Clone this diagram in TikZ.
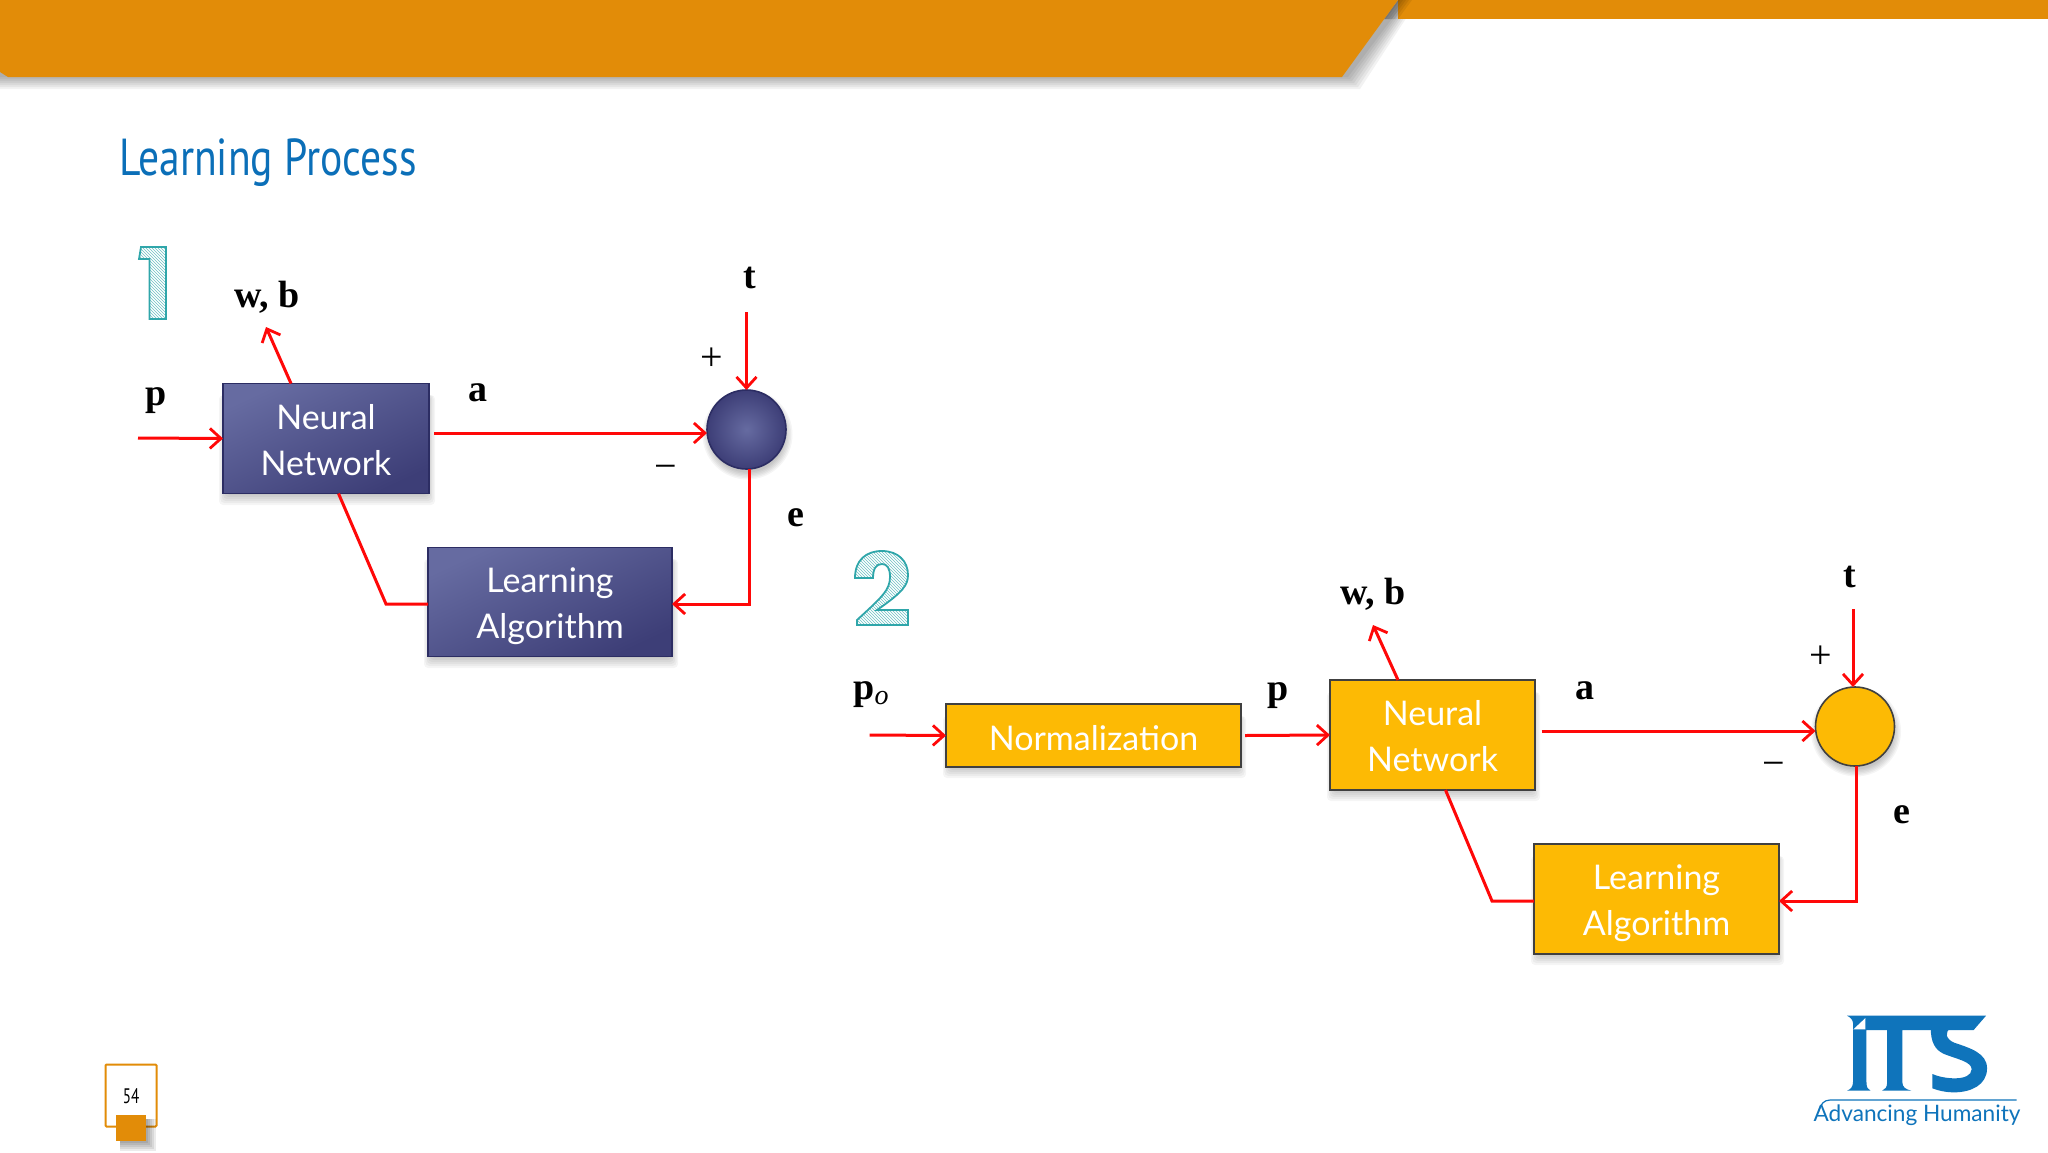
\documentclass[tikz,border=0pt]{standalone}
\usepackage{fontspec}
\usetikzlibrary{arrows.meta,patterns}
\newfontfamily\boxfont{Lato}
\newfontfamily\titlefont{PT Sans}
\newfontfamily\sigfont{Liberation Serif}
\definecolor{band}{HTML}{E28C08}
\definecolor{navyA}{HTML}{666BA1}
\definecolor{navyB}{HTML}{3D3E77}
\definecolor{navyL}{HTML}{2C2D63}
\definecolor{amber}{HTML}{FDBA04}
\definecolor{redline}{HTML}{FF0808}
\definecolor{tealline}{HTML}{2FA6AA}
\definecolor{itsblue}{HTML}{0F74BB}
\definecolor{titleblue}{HTML}{0B6FB8}
\tikzset{
  blockbase/.style={rectangle,inner sep=0pt,outer sep=0pt,line width=1.6pt,align=center,text=white,
     font=\boxfont\fontsize{34}{46}\selectfont},
  navybox/.style={blockbase,draw=navyL,left color=navyA,right color=navyB,shading angle=25},
  amberbox/.style={blockbase,draw=black!75,fill=amber},
  navysum/.style={circle,inner sep=0pt,outer sep=0pt,minimum size=79pt,line width=1.6pt,draw=navyL,
     inner color=navyA,outer color=navyB},
  ambersum/.style={circle,inner sep=0pt,outer sep=0pt,minimum size=79pt,line width=1.6pt,draw=black!75,fill=amber},
  wire/.style={draw=redline,line width=3pt},
  arrowwire/.style={wire,-{Straight Barb[length=11pt,width=20pt,line width=2.8pt]}},
  sig/.style={inner sep=0pt,font=\sigfont\bfseries\fontsize{38}{40}\selectfont},
  signmark/.style={inner sep=0pt,font=\sigfont\fontsize{40}{42}\selectfont},
  digit/.style={draw=tealline,line width=1.8pt,pattern=north west lines,pattern color=tealline!70},
}
\newcommand{\softshadow}[4]{%
  \foreach \d in {10,8,6,4,2,0}{%
    \fill[black,opacity=0.04,rounded corners=4pt] ({#1+4-0.7*\d},#2+12) rectangle ({#3-2+0.7*\d},#4+\d+1);}}
\newcommand{\softdisc}[2]{%
  \foreach \d in {10,8,6,4,2,0}{%
    \fill[black,opacity=0.04] (#1+1,#2+5) circle ({38+0.7*\d});}}
\newcommand{\twolines}[2]{\raisebox{-4.5pt}[\height][\depth]{\begin{tabular}{@{}c@{}}#1\\#2\end{tabular}}}
\begin{document}
\begin{tikzpicture}[x=1pt,y=-1pt]
\useasboundingbox (0,0) rectangle (2048,1152);
\fill[white] (0,0) rectangle (2048,1152);

% banner
\foreach \d in {12,10,8,6,4,2,0}{%
  \fill[black,opacity=0.05] (0,0) -- (1406+\d,0) -- (1348+\d,{77+\d}) -- (0,{77+\d}) -- cycle;}
\fill[band] (1398,0) rectangle (2048,19);
\foreach \d in {14,11,8,5,2}{\fill[black,opacity=0.07] (1398,0) -- (1398+\d,0) -- (1384+\d,19) -- (1384,19) -- cycle;}
\fill[band] (0,0) -- (1398,0) -- (1342,77) -- (8,77) -- (0,72) -- cycle;

% title
\node[anchor=west,inner sep=0pt,text=titleblue] (title) at (119,163)
  {\scalebox{0.8}[1]{\titlefont\fontsize{52}{56}\selectfont Learning Process}};

% digit one
\filldraw[digit] (141,247) -- (166,247) -- (166,319) -- (149.5,319) -- (149.5,259) -- (139,259) -- cycle;
% digit two
\filldraw[digit] (855,578) .. controls (855,560) and (866,551) .. (882,551)
  .. controls (898,551) and (908,561) .. (908,575)
  .. controls (908,585) and (903,592) .. (877,610) -- (908,610) -- (908,625) -- (857,625) -- (857,620)
  .. controls (882,597) and (890,590) .. (890,577)
  .. controls (890,568) and (887,564) .. (882,564)
  .. controls (876,564) and (873,569) .. (873,578) -- cycle;

% diagram one
\softshadow{222}{383}{430}{494}
\softshadow{427}{547}{673}{657}
\softdisc{746.5}{429.5}
\node[navybox,minimum width=206pt,minimum height=110pt] (nn1) at (326,438.5) {\twolines{Neural}{Network}};
\node[navybox,minimum width=244pt,minimum height=109pt] (la1) at (550,602) {\twolines{Learning}{Algorithm}};
\node[navysum] (sum1) at (746.5,429.5) {};
\coordinate (in1) at (138,438);
\coordinate (wb1) at (266,327);
\coordinate (tt1) at (746.5,312);
\coordinate (knee1) at (386,604);
\draw[arrowwire] (in1) -- (nn1.west);
\draw[arrowwire] ([xshift=-35pt]nn1.north) -- (wb1);
\draw[arrowwire] ([xshift=5pt,yshift=5.5pt]nn1.east) -- ([yshift=-3.5pt]sum1.west);
\draw[arrowwire] (tt1) -- (sum1.north);
\draw[arrowwire] ([xshift=3pt]sum1.south) |- ([yshift=-2pt]la1.east);
\draw[wire] ([yshift=-2pt]la1.west) -- (knee1) -- ([xshift=12.5pt]nn1.south);
\node[sig] (lwb1) at (267,297) {w, b};
\node[sig] (lp1) at (156,401) {p};
\node[sig] (la1t) at (478,393) {a};
\node[sig] (lt1) at (750,278) {t};
\node[sig] (le1) at (795.5,518) {e};
\node[signmark] (plus1) at (712,359) {+};
\node[signmark] (minus1) at (666,472) {−};

% diagram two
\softshadow{946}{704}{1241}{767}
\softshadow{1330}{680}{1535}{790}
\softshadow{1534}{844}{1779}{954}
\softdisc{1855}{726.5}
\node[amberbox,minimum width=295pt,minimum height=63pt] (norm) at (1093.5,735.5) {\raisebox{-2.5pt}[\height][\depth]{Normalization}};
\node[amberbox,minimum width=205pt,minimum height=110pt] (nn2) at (1432.5,735) {\twolines{Neural}{Network}};
\node[amberbox,minimum width=245pt,minimum height=110pt] (la2) at (1656.5,899) {\twolines{Learning}{Algorithm}};
\node[ambersum] (sum2) at (1855,726.5) {};
\coordinate (in2) at (869.5,735);
\coordinate (wb2) at (1373,625);
\coordinate (tt2) at (1853,609);
\coordinate (knee2) at (1492,901);
\draw[arrowwire] (in2) -- (norm.west);
\draw[arrowwire] ([xshift=4pt]norm.east) -- (nn2.west);
\draw[arrowwire] ([xshift=-34.5pt]nn2.north) -- (wb2);
\draw[arrowwire] ([xshift=6.5pt,yshift=4pt]nn2.east) -- ([yshift=-4.5pt]sum2.west);
\draw[arrowwire] (tt2) -- ([xshift=-2pt]sum2.north);
\draw[arrowwire] ([xshift=1pt]sum2.south) |- ([yshift=-2pt]la2.east);
\draw[wire] ([yshift=-2pt]la2.west) -- (knee2) -- ([xshift=13pt]nn2.south);
\node[sig] (lwb2) at (1373,594) {w, b};
\node[sig] (lpo) at (871,695) {p{\normalfont\sigfont\itshape\fontsize{28}{30}\selectfont\raisebox{-5pt}{o}}};
\node[sig] (lp2) at (1278,696) {p};
\node[sig] (la2t) at (1585,691) {a};
\node[sig] (lt2) at (1850,577) {t};
\node[sig] (le2) at (1902,815) {e};
\node[signmark] (plus2) at (1821,657) {+};
\node[signmark] (minus2) at (1774,769) {−};

% page badge
\node[draw=band,line width=2pt,inner sep=0pt,minimum width=51pt,minimum height=62pt,fill=white,
  rounded corners=1pt] (badge) at (131,1095.5) {};
\node[inner sep=0pt] (pagenum) at (131,1096) {\scalebox{0.72}[1]{\titlefont\fontsize{21}{23}\selectfont 54}};
\foreach \d in {8,6,4,2,0}{\fill[black,opacity=0.08] (120,1119) rectangle (148+\d,1143+\d);}
\fill[band] (116,1115) rectangle (146,1141);

% logo
\begin{scope}[shift={(1780,1000)},x=0.335pt,y=-0.3333pt]
  \fill[itsblue] (200,47) -- (615,47) -- (578,90) -- (365,90) -- (365,245) .. controls (365,262) and (375,268) .. (392,272)
     -- (305,272) .. controls (314,268) and (320,262) .. (320,245) -- (320,90) -- (258,90) -- (258,245)
     .. controls (258,262) and (262,268) .. (270,272) -- (200,272) .. controls (210,268) and (218,262) .. (218,245)
     -- (218,88) -- (218,70) .. controls (218,60) and (210,52) .. (200,47) -- cycle;
  \fill[white] (219,88) -- (255,54) -- (255,88) -- cycle;
  \fill[itsblue] (450,85) -- (510,85) .. controls (490,95) and (495,118) .. (520,128)
     .. controls (570,145) and (618,160) .. (618,205)
     .. controls (618,255) and (570,277) .. (520,277)
     .. controls (495,277) and (472,272) .. (455,265) -- (455,222)
     .. controls (490,238) and (570,245) .. (572,208)
     .. controls (572,185) and (530,178) .. (490,162)
     .. controls (462,150) and (450,125) .. (450,85) -- cycle;
  \draw[itsblue,line width=1.2pt] (115,335) .. controls (122,312) and (130,300) .. (150,300) -- (706,300);
  \node[inner sep=0pt,text=itsblue,anchor=base] (logotext) at (409,365)
     {\resizebox{207pt}{!}{\boxfont Advancing Humanity}};
\end{scope}
\end{tikzpicture}
\end{document}
